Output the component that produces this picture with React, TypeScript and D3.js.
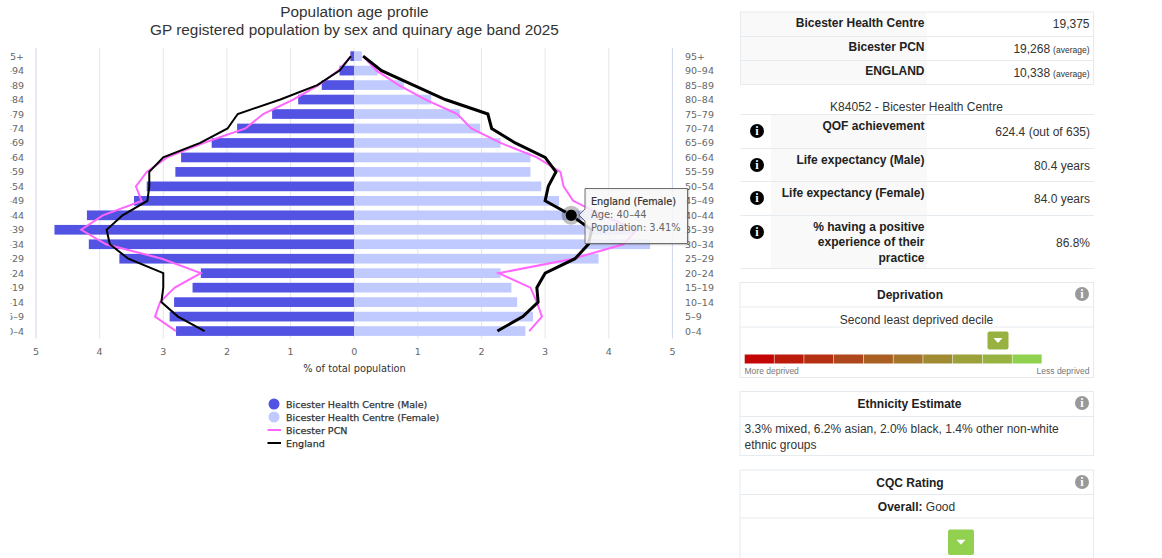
import React from "react";
import * as d3 from "d3";

// Age bands, top of the pyramid first
const ageBands = ["95+", "90-94", "85-89", "80-84", "75-79", "70-74", "65-69", "60-64", "55-59", "50-54", "45-49", "40-44", "35-39", "30-34", "25-29", "20-24", "15-19", "10-14", "5-9", "0-4"];
const xTicks = [-5, -4, -3, -2, -1, 0, 1, 2, 3, 4, 5];

// % of total population
const practiceMale = [0.06, 0.23, 0.51, 0.88, 1.29, 1.84, 2.24, 2.72, 2.81, 3.26, 3.46, 4.2, 4.71, 4.17, 3.69, 2.41, 2.54, 2.83, 2.9, 2.8];
const practiceFemale = [0.12, 0.37, 0.78, 1.21, 1.66, 1.98, 2.3, 2.77, 2.77, 2.94, 3.22, 3.85, 4.4, 4.65, 3.84, 2.3, 2.47, 2.56, 2.81, 2.69];
const pcnMale = [0.05, 0.25, 0.56, 0.96, 1.43, 1.71, 2.37, 2.94, 3.26, 3.43, 3.34, 3.95, 4.29, 3.9, 3.02, 2.41, 2.82, 3.05, 3.13, 2.8];
const pcnFemale = [0.14, 0.35, 0.7, 1.12, 1.62, 1.84, 2.3, 2.87, 3.24, 3.29, 3.44, 3.9, 4.44, 4.23, 3.44, 2.27, 2.77, 2.87, 2.95, 2.75];
const englandMale = [0.05, 0.23, 0.58, 1.16, 1.83, 1.99, 2.42, 3.0, 3.22, 3.22, 3.25, 3.64, 3.89, 3.84, 3.55, 3.0, 3.0, 3.03, 2.77, 2.35];
const englandFemale = [0.14, 0.43, 0.93, 1.43, 2.1, 2.16, 2.53, 3.0, 3.17, 3.05, 3.0, 3.41, 3.73, 3.68, 3.47, 3.0, 2.87, 2.89, 2.65, 2.25];

const legendDots = [
  { label: "Bicester Health Centre (Male)", color: "#5353e3" },
  { label: "Bicester Health Centre (Female)", color: "#c1caff" },
];
const legendLines = [
  { label: "Bicester PCN", color: "#ff66ff" },
  { label: "England", color: "#000000" },
];

const listSizeRows = [
  { label: "Bicester Health Centre", value: "19,375", note: "" },
  { label: "Bicester PCN", value: "19,268", note: "(average)" },
  { label: "ENGLAND", value: "10,338", note: "(average)" },
];
const practiceRows = [
  { lines: ["QOF achievement"], value: "624.4 (out of 635)" },
  { lines: ["Life expectancy (Male)"], value: "80.4 years" },
  { lines: ["Life expectancy (Female)"], value: "84.0 years" },
  { lines: ["% having a positive", "experience of their", "practice"], value: "86.8%" },
];
const deprivationColors = ["#c40505", "#bb1b0b", "#b53012", "#ae471b", "#a95f22", "#a5752c", "#a08b33", "#9da13a", "#98b241", "#90d24f"];

const chartFont = "'DejaVu Sans', sans-serif";
const panelFont = "'Liberation Sans', Arial, sans-serif";
const line1 = "#e6ebef";
const shade = "#f9f9f9";

const x = d3.scaleLinear().domain([-5, 5]).range([36, 672.4]);
const y = d3.scaleBand().domain(ageBands).range([48.9, 338.3]).paddingInner(0.33).paddingOuter(0.165);
const mid = (i: number) => (y(ageBands[i]) || 0) + y.bandwidth() / 2;

const sideLine = (sign: number) =>
  d3
    .line<number>()
    .x((d) => x(sign * d))
    .y((_, i) => mid(i));

const InfoIcon: React.FC<{ cx: number; cy: number; r: number; color: string }> = ({ cx, cy, r, color }) => (
  <g>
    <circle cx={cx} cy={cy} r={r} fill={color} />
    <text x={cx} y={cy + r * 0.62} textAnchor="middle" fontFamily="'Liberation Serif', serif" fontWeight="bold" fontSize={r * 1.75} fill="#fff">
      i
    </text>
  </g>
);

const Marker: React.FC<{ x: number; y: number; w: number; h: number; color: string }> = ({ x: mx, y: my, w, h, color }) => {
  const cx = mx + w / 2;
  const cy = my + h / 2;
  return (
    <g>
      <rect x={mx} y={my} width={w} height={h} rx={2} fill={color} />
      <path d={`M${cx - 4.5},${cy - 2.5}L${cx + 4.5},${cy - 2.5}L${cx},${cy + 2.5}Z`} fill="#fff" />
    </g>
  );
};

const Pyramid: React.FC = () => (
  <g fontFamily={chartFont}>
    {xTicks.map((t) => (
      <line key={t} x1={x(t)} x2={x(t)} y1={48} y2={338.5} stroke={Math.abs(t) === 5 ? "#ccd6eb" : "#e6e6e6"} />
    ))}

    {ageBands.map((band, i) => (
      <g key={band}>
        <rect x={x(-practiceMale[i])} y={y(band)} width={x(0) - x(-practiceMale[i])} height={y.bandwidth()} fill="#5353e3" />
        <rect x={x(0)} y={y(band)} width={x(practiceFemale[i]) - x(0)} height={y.bandwidth()} fill="#c1caff" />
      </g>
    ))}

    <path d={sideLine(-1)(pcnMale) || ""} fill="none" stroke="#ff66ff" strokeWidth={2} />
    <path d={sideLine(1)(pcnFemale) || ""} fill="none" stroke="#ff66ff" strokeWidth={2} />
    <path d={sideLine(-1)(englandMale) || ""} fill="none" stroke="#000" strokeWidth={2} />
    <path d={sideLine(1)(englandFemale) || ""} fill="none" stroke="#000" strokeWidth={3} />

    <g fontSize={9.5} fill="#666">
      {ageBands.map((band, i) => (
        <g key={band}>
          <text x={24} y={mid(i) + 3.5} textAnchor="end" clipPath="url(#leftCut)">
            {band.replace("-", "\u2013")}
          </text>
          <text x={685} y={mid(i) + 3.5}>
            {band.replace("-", "\u2013")}
          </text>
        </g>
      ))}
      {xTicks.map((t) => (
        <text key={t} x={x(t)} y={355} textAnchor="middle">
          {Math.abs(t)}
        </text>
      ))}
    </g>
    <text x={354.5} y={372} textAnchor="middle" fontSize={9.8} fill="#333">
      % of total population
    </text>

    {legendDots.map((d, i) => (
      <g key={d.label}>
        <circle cx={274} cy={404 + i * 13} r={5.5} fill={d.color} />
        <text x={286} y={408 + i * 13} fontSize={9.55} fill="#333" stroke="#333" strokeWidth={0.25}>
          {d.label}
        </text>
      </g>
    ))}
    {legendLines.map((d, i) => (
      <g key={d.label}>
        <line x1={267.5} x2={281} y1={430 + i * 13} y2={430 + i * 13} stroke={d.color} strokeWidth={2} />
        <text x={286} y={434 + i * 13} fontSize={9.55} fill="#333" stroke="#333" strokeWidth={0.25}>
          {d.label}
        </text>
      </g>
    ))}

    {/* hovered point and its tooltip */}
    <circle cx={x(englandFemale[11])} cy={mid(11)} r={9.5} fill="#000" opacity={0.25} />
    <circle cx={x(englandFemale[11])} cy={mid(11)} r={6} fill="#000" stroke="#fff" strokeWidth={0.5} />
    <path d="M586,189.5H688.5V244.5H586V222L580,216L586,210Z" fill="none" stroke="#000" strokeOpacity={0.2} strokeWidth={1.5} />
    <path d="M585,188.5H687.5V243.5H585V221L579,215L585,209Z" fill="#f7f7f7" fillOpacity={0.85} stroke="#6e6e6e" strokeWidth={1} />
    <text x={591} y={205} fontSize={9.7} fill="#333" stroke="#333" strokeWidth={0.2}>
      England (Female)
    </text>
    <text x={591} y={218} fontSize={9.9} fill="#666">
      Age: 40–44
    </text>
    <text x={591} y={231} fontSize={9.9} fill="#666">
      Population: 3.41%
    </text>
  </g>
);

const Panels: React.FC = () => (
  <g fontFamily={panelFont} fontSize={12} fill="#333">
    {/* list size table */}
    <rect x={740} y={12} width={187} height={72.5} fill={shade} />
    {[12, 36.5, 60.5, 84.5].map((v) => (
      <line key={v} x1={740} x2={1094} y1={v} y2={v} stroke={line1} />
    ))}
    <line x1={1093.5} x2={1093.5} y1={12} y2={84.5} stroke={line1} />
    <line x1={740.5} x2={740.5} y1={12} y2={84.5} stroke={line1} />
    {listSizeRows.map((r, i) => (
      <g key={r.label}>
        <text x={924.5} y={27 + i * 24.2} textAnchor="end" fontWeight="bold" fill="#222">
          {r.label}
        </text>
        <text x={1089.5} y={28.3 + i * 24.5} textAnchor="end">
          {r.value}
          {r.note && (
            <tspan fontSize={8.5} dx={3}>
              {r.note}
            </tspan>
          )}
        </text>
      </g>
    ))}

    {/* practice table */}
    <text x={916.5} y={111} textAnchor="middle">
      K84052 - Bicester Health Centre
    </text>
    <rect x={771} y={115} width={156} height={153} fill={shade} />
    {[114.5, 148.5, 181.5, 215.5, 268.5].map((v) => (
      <line key={v} x1={740} x2={1094} y1={v} y2={v} stroke={line1} />
    ))}
    {practiceRows.map((r, i) => {
      const top = [114.5, 148.5, 181.5, 215.5][i];
      const bottom = [148.5, 181.5, 215.5, 268.5][i];
      return (
        <g key={r.value}>
          <InfoIcon cx={757} cy={top + 16.5} r={7} color="#000" />
          {r.lines.map((l, j) => (
            <text key={l} x={924.5} y={top + 15 + j * 15.7} textAnchor="end" fontWeight="bold" fill="#222">
              {l}
            </text>
          ))}
          <text x={1090} y={(top + bottom) / 2 + 4.5} textAnchor="end">
            {r.value}
          </text>
        </g>
      );
    })}

    {/* deprivation */}
    <rect x={740} y={282.5} width={353.5} height={95} fill="#fff" stroke={line1} />
    <line x1={740} x2={1094} y1={307} y2={307} stroke={line1} />
    <line x1={740} x2={1094} y1={327} y2={327} stroke={line1} />
    <text x={910} y={299} textAnchor="middle" fontWeight="bold" fill="#222">
      Deprivation
    </text>
    <InfoIcon cx={1082} cy={294} r={7} color="#999" />
    <text x={916.5} y={324} textAnchor="middle">
      Second least deprived decile
    </text>
    <Marker x={987.5} y={331.5} w={21} h={18} color="#98b241" />
    {deprivationColors.map((c, i) => (
      <rect key={c} x={744.7 + i * 29.75} y={354.5} width={29.2} height={9} fill={c} />
    ))}
    <text x={744.5} y={374} fontSize={8.5} fill="#777">
      More deprived
    </text>
    <text x={1089.5} y={374} fontSize={8.5} fill="#777" textAnchor="end">
      Less deprived
    </text>

    {/* ethnicity */}
    <rect x={740} y={391.5} width={353.5} height={64} fill="#fff" stroke={line1} />
    <line x1={740} x2={1094} y1={416.5} y2={416.5} stroke={line1} />
    <text x={909.5} y={408} textAnchor="middle" fontWeight="bold" fill="#222">
      Ethnicity Estimate
    </text>
    <InfoIcon cx={1082} cy={403} r={7} color="#999" />
    <text x={744.5} y={433}>
      3.3% mixed, 6.2% asian, 2.0% black, 1.4% other non-white
    </text>
    <text x={744.5} y={448.5}>
      ethnic groups
    </text>

    {/* CQC */}
    <rect x={740} y={470} width={353.5} height={100} fill="#fff" stroke={line1} />
    <line x1={740} x2={1094} y1={494.5} y2={494.5} stroke={line1} />
    <line x1={740} x2={1094} y1={518} y2={518} stroke={line1} />
    <text x={910} y={487} textAnchor="middle" fontWeight="bold" fill="#222">
      CQC Rating
    </text>
    <InfoIcon cx={1082} cy={482} r={7} color="#999" />
    <text x={916.5} y={511} textAnchor="middle">
      <tspan fontWeight="bold" fill="#222">Overall:</tspan> Good
    </text>
    <Marker x={948} y={529.5} w={26} h={25.5} color="#92d050" />
  </g>
);

export default function App() {
  return (
    <svg width={1162} height={558} style={{ position: "absolute", top: 0, left: 0, display: "block", background: "#fff" }}>
      <defs>
        <clipPath id="leftCut" clipPathUnits="userSpaceOnUse">
          <rect x={10.5} y={0} width={30} height={558} />
        </clipPath>
        <clipPath id="titleCut">
          <rect x={0} y={7} width={730} height={60} />
        </clipPath>
      </defs>
      <g fontFamily={panelFont} fontSize={15.33} fill="#333" textAnchor="middle" clipPath="url(#titleCut)">
        <text x={354.5} y={17}>Population age profile</text>
        <text x={354.5} y={34.7}>GP registered population by sex and quinary age band 2025</text>
      </g>
      <Pyramid />
      <Panels />
    </svg>
  );
}
